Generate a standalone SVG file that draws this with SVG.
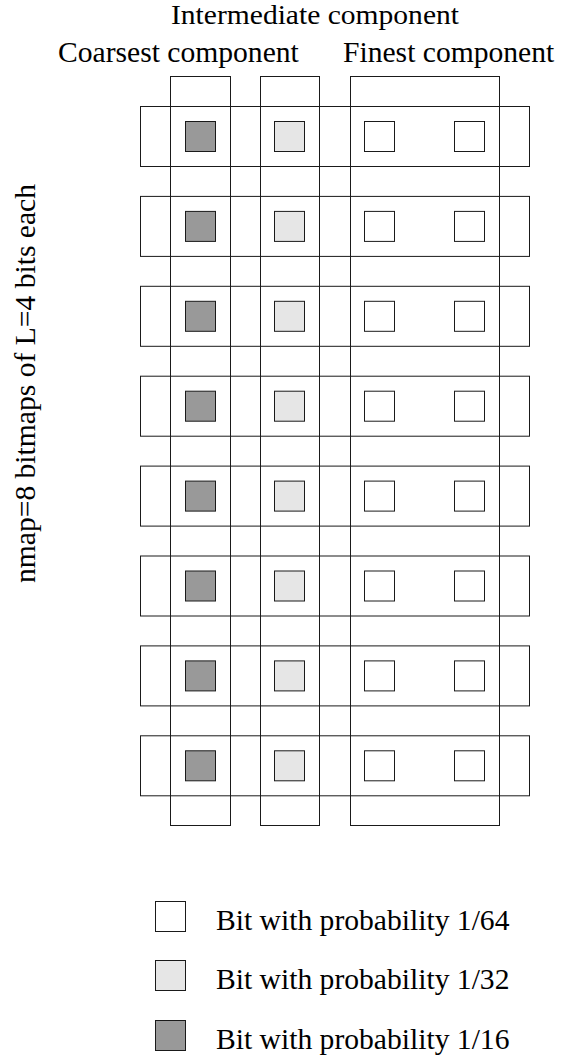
<svg xmlns="http://www.w3.org/2000/svg" width="563" height="1057" viewBox="0 0 563 1057">
<style>
.frame{fill:none;stroke:#1a1a1a;stroke-width:1}
.bit{stroke:#1a1a1a;stroke-width:1}
.w{fill:#ffffff}.l{fill:#e6e6e6}.d{fill:#999999}
text{font-family:"Liberation Serif","Times New Roman",serif;font-size:29.6px;fill:#000}
</style>
<rect width="563" height="1057" fill="#fff"/>
<g id="labels">
<text x="171" y="24" style="font-size:26.5px" textLength="288" lengthAdjust="spacingAndGlyphs">Intermediate component</text>
<text x="58" y="62">Coarsest component</text>
<text x="343" y="62">Finest component</text>
<text transform="translate(35,383.5) rotate(-90)" text-anchor="middle">nmap=8 bitmaps of L=4 bits each</text>
</g>
<g id="columns">
<rect id="col-coarsest" class="frame" x="170.5" y="76.5" width="60" height="749"/>
<rect id="col-intermediate" class="frame" x="260.5" y="76.5" width="59" height="749"/>
<rect id="col-finest" class="frame" x="350.5" y="76.5" width="149" height="749"/>
</g>
<g id="connectors"/>
<g id="row1" transform="translate(0,0)"><rect class="frame" x="140.5" y="106.5" width="389" height="60"/><rect class="bit d" x="185.5" y="121.5" width="30" height="30"/><rect class="bit l" x="274.5" y="121.5" width="30" height="30"/><rect class="bit w" x="364.5" y="121.5" width="30" height="30"/><rect class="bit w" x="454.5" y="121.5" width="30" height="30"/></g>
<g id="row2" transform="translate(0,89.9)"><rect class="frame" x="140.5" y="106.5" width="389" height="60"/><rect class="bit d" x="185.5" y="121.5" width="30" height="30"/><rect class="bit l" x="274.5" y="121.5" width="30" height="30"/><rect class="bit w" x="364.5" y="121.5" width="30" height="30"/><rect class="bit w" x="454.5" y="121.5" width="30" height="30"/></g>
<g id="row3" transform="translate(0,179.8)"><rect class="frame" x="140.5" y="106.5" width="389" height="60"/><rect class="bit d" x="185.5" y="121.5" width="30" height="30"/><rect class="bit l" x="274.5" y="121.5" width="30" height="30"/><rect class="bit w" x="364.5" y="121.5" width="30" height="30"/><rect class="bit w" x="454.5" y="121.5" width="30" height="30"/></g>
<g id="row4" transform="translate(0,269.7)"><rect class="frame" x="140.5" y="106.5" width="389" height="60"/><rect class="bit d" x="185.5" y="121.5" width="30" height="30"/><rect class="bit l" x="274.5" y="121.5" width="30" height="30"/><rect class="bit w" x="364.5" y="121.5" width="30" height="30"/><rect class="bit w" x="454.5" y="121.5" width="30" height="30"/></g>
<g id="row5" transform="translate(0,359.6)"><rect class="frame" x="140.5" y="106.5" width="389" height="60"/><rect class="bit d" x="185.5" y="121.5" width="30" height="30"/><rect class="bit l" x="274.5" y="121.5" width="30" height="30"/><rect class="bit w" x="364.5" y="121.5" width="30" height="30"/><rect class="bit w" x="454.5" y="121.5" width="30" height="30"/></g>
<g id="row6" transform="translate(0,449.5)"><rect class="frame" x="140.5" y="106.5" width="389" height="60"/><rect class="bit d" x="185.5" y="121.5" width="30" height="30"/><rect class="bit l" x="274.5" y="121.5" width="30" height="30"/><rect class="bit w" x="364.5" y="121.5" width="30" height="30"/><rect class="bit w" x="454.5" y="121.5" width="30" height="30"/></g>
<g id="row7" transform="translate(0,539.4)"><rect class="frame" x="140.5" y="106.5" width="389" height="60"/><rect class="bit d" x="185.5" y="121.5" width="30" height="30"/><rect class="bit l" x="274.5" y="121.5" width="30" height="30"/><rect class="bit w" x="364.5" y="121.5" width="30" height="30"/><rect class="bit w" x="454.5" y="121.5" width="30" height="30"/></g>
<g id="row8" transform="translate(0,629.3)"><rect class="frame" x="140.5" y="106.5" width="389" height="60"/><rect class="bit d" x="185.5" y="121.5" width="30" height="30"/><rect class="bit l" x="274.5" y="121.5" width="30" height="30"/><rect class="bit w" x="364.5" y="121.5" width="30" height="30"/><rect class="bit w" x="454.5" y="121.5" width="30" height="30"/></g>
<g id="legend">
<rect class="bit w" x="155.5" y="901.5" width="30" height="30"/>
<text x="216" y="930">Bit with probability 1/64</text>
<rect class="bit l" x="155.5" y="960.5" width="30" height="30"/>
<text x="216" y="989">Bit with probability 1/32</text>
<rect class="bit d" x="155.5" y="1020.5" width="30" height="30"/>
<text x="216" y="1049">Bit with probability 1/16</text>
</g>
</svg>
